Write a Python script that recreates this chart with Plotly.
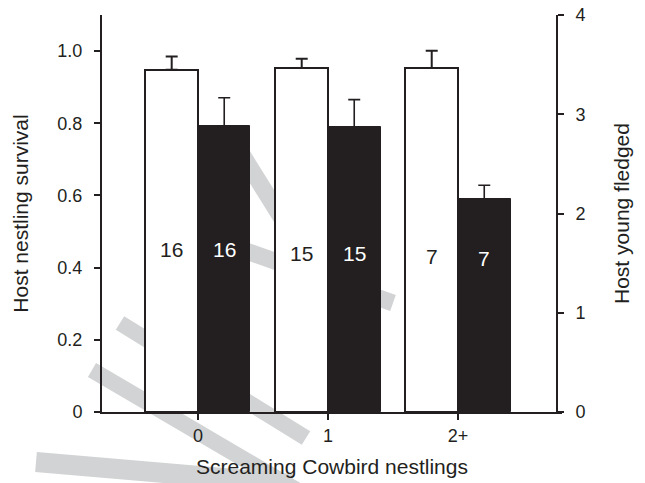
import plotly.graph_objects as go

# ---- data ----
categories = ["0", "1", "2+"]
survival = [0.948, 0.953, 0.953]          # left axis, white bars
survival_se = [0.037, 0.026, 0.048]
fledged = [2.877, 2.867, 2.145]           # right axis, black bars
fledged_se = [0.29, 0.28, 0.14]
sample_sizes = [16, 15, 7]

# ---- style / layout constants ----
INK = "#231f20"
GREY = "#d1d3d4"
FONT = "Liberation Sans, Arial, Helvetica, sans-serif"
W, H = 645, 483
L, R, T, B = 102, 562, 15, 412          # plot area in px
BAR_W = 0.404
label_y_white = [0.449, 0.438, 0.430]
label_y_black = [0.449, 0.438, 0.424]

fig = go.Figure()

fig.add_trace(go.Bar(
    x=categories, y=survival, name="Host nestling survival",
    marker=dict(color="white", line=dict(color=INK, width=2)),
    offset=-BAR_W, width=BAR_W,
    error_y=dict(type="data", array=survival_se, arrayminus=[0] * len(survival_se),
                 symmetric=False, color=INK, thickness=2, width=6),
    yaxis="y", showlegend=False,
))
fig.add_trace(go.Bar(
    x=categories, y=fledged, name="Host young fledged",
    marker=dict(color=INK, line=dict(color=INK, width=1)),
    offset=0, width=BAR_W,
    error_y=dict(type="data", array=fledged_se, arrayminus=[0] * len(fledged_se),
                 symmetric=False, color=INK, thickness=1.6, width=6),
    yaxis="y2", showlegend=False,
))

annotations = []
for i, n in enumerate(sample_sizes):
    annotations.append(dict(x=i - BAR_W / 2, y=label_y_white[i], xref="x", yref="y",
                            text=str(n), showarrow=False,
                            font=dict(family=FONT, size=21, color=INK)))
    annotations.append(dict(x=i + BAR_W / 2, y=label_y_black[i], xref="x", yref="y",
                            text=str(n), showarrow=False,
                            font=dict(family=FONT, size=21, color="white")))


# ---- watermark stripes (decorative, pixel coordinates) ----
def px(xp, yp):
    return (xp - L) / (R - L), (B - yp) / (B - T)


stripes = [
    ((120, 323), (306, 438), 16),
    ((92, 370), (300, 492), 16),
    ((36, 462), (292, 484), 20),
    ((238, 148), (294, 238), 17),
    ((215, 240), (393, 303), 17),
]
shapes = []
for (x0, y0), (x1, y1), w in stripes:
    a = px(x0, y0)
    b = px(x1, y1)
    shapes.append(dict(type="line", xref="paper", yref="paper",
                       x0=a[0], y0=a[1], x1=b[0], y1=b[1],
                       line=dict(color=GREY, width=w), layer="below"))

fig.update_layout(
    width=W, height=H,
    margin=dict(l=L, r=W - R, t=T, b=H - B, pad=0, autoexpand=False),
    paper_bgcolor="white", plot_bgcolor="rgba(0,0,0,0)",
    font=dict(family=FONT, size=18, color=INK),
    bargap=0,
    annotations=annotations,
    shapes=shapes,
    xaxis=dict(
        type="category", range=[-0.738, 2.8],
        showline=True, linecolor=INK, linewidth=2,
        ticks="outside", ticklen=6, tickwidth=2, tickcolor=INK,
        showgrid=False, zeroline=False, automargin=False,
        tickfont=dict(size=18),
        title=dict(text="Screaming Cowbird nestlings", font=dict(size=21), standoff=15),
    ),
    yaxis=dict(
        range=[0, 1.1],
        tickvals=[0, 0.2, 0.4, 0.6, 0.8, 1.0],
        ticktext=["0", "0.2", "0.4", "0.6", "0.8", "1.0"],
        showline=True, linecolor=INK, linewidth=2,
        ticks="outside", ticklen=6, tickwidth=2, tickcolor=INK,
        showgrid=False, zeroline=False, automargin=False,
        tickfont=dict(size=18), ticklabelstandoff=8,
        title=dict(text="Host nestling survival", font=dict(size=21), standoff=23),
    ),
    yaxis2=dict(
        range=[0, 4], overlaying="y", side="right",
        anchor="free", position=(557 - L) / (R - L),
        tickvals=[0, 1, 2, 3, 4],
        showline=True, linecolor=INK, linewidth=2,
        ticks="outside", ticklen=6, tickwidth=2, tickcolor=INK,
        showgrid=False, zeroline=False, automargin=False,
        tickfont=dict(size=18), ticklabelstandoff=8,
        title=dict(text="Host young fledged", font=dict(size=21), standoff=29),
    ),
)

fig.write_html("out.html", config={"displayModeBar": False},
               post_script="document.body.style.margin='0';")
